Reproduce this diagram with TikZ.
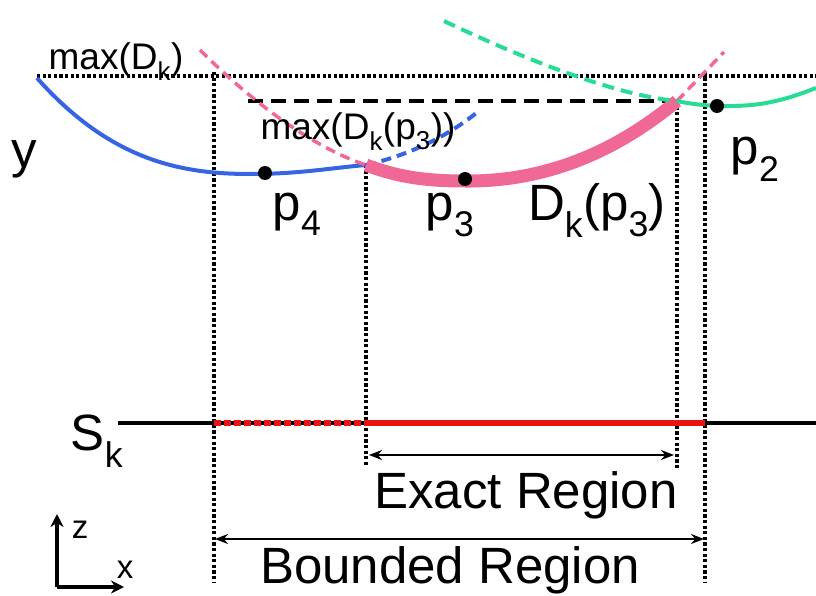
\documentclass[tikz,border=0pt]{standalone}
\usepackage{fontspec}
\setmainfont{Liberation Sans}
\usetikzlibrary{arrows.meta}
\definecolor{cblue}{RGB}{55,100,225}
\definecolor{cpink}{RGB}{240,105,150}
\definecolor{cgreen}{RGB}{40,220,150}
\definecolor{cred}{RGB}{232,20,20}
\tikzset{
  big/.style={font=\fontsize{51}{55}\selectfont, inner sep=0pt, anchor=base},
  small/.style={font=\fontsize{37}{40}\selectfont, inner sep=0pt, anchor=base},
  axlab/.style={font=\fontsize{33}{36}\selectfont, inner sep=0pt, anchor=base},
  guide/.style={black, line width=3.2pt, dash pattern=on 3.2pt off 2.4pt},
  pt/.style={circle, fill=black, inner sep=0pt, minimum size=14pt},
  dimarrow/.style={line width=2.4pt, {Stealth[length=13pt,width=10pt]}-{Stealth[length=13pt,width=10pt]}},
}
\begin{document}
\begin{tikzpicture}[x=1pt,y=-1pt]
\useasboundingbox (0,0) rectangle (816,596);
% key coordinates
\coordinate (mL) at (37,76);
\coordinate (mR) at (816,76);
\coordinate (dL) at (248,101);
\coordinate (cross) at (366,165);
\coordinate (pinkR) at (677,101);
\coordinate (g0) at (444,21);
\coordinate (gR) at (816,88);
% top guide lines
\draw[guide] (mL) -- (mR);
\draw[black, line width=4.5pt, dash pattern=on 15pt off 8pt] (dL) -- (pinkR);
% vertical guides
\draw[guide] (214,72) -- (214,583);
\draw[guide] (cross) -- (366,465);
\draw[guide] (pinkR) -- (677,468);
\draw[guide] (705,72) -- (705,583);
% blue curve
\draw[cblue, line width=4pt] (37,78) .. controls (110,160) and (180,174) .. (250,174)
      .. controls (300,174) and (330,168) .. (cross);
\draw[cblue, line width=4pt, dash pattern=on 10pt off 6pt] (cross) .. controls (410,155) and (450,135) .. (480,110);
% pink curve
\draw[cpink, line width=3.5pt, dash pattern=on 10pt off 6pt] (200,50) .. controls (260,110) and (320,150) .. (cross);
\draw[cpink, line width=13pt] (cross) .. controls (400,178) and (430,181) .. (465,181)
      .. controls (560,182) and (630,140) .. (pinkR);
\draw[cpink, line width=3.5pt, dash pattern=on 10pt off 6pt] (pinkR) -- (724,52);
% green curve
\draw[cgreen, line width=4pt, dash pattern=on 12pt off 7pt] (g0) .. controls (530,62) and (620,96) .. (pinkR);
\draw[cgreen, line width=4pt] (pinkR) .. controls (700,106) and (730,108) .. (760,104)
      .. controls (785,100) and (800,94) .. (gR);
% points
\node[pt] (p4) at (265,173) {};
\node[pt] (p3) at (465,179) {};
\node[pt] (p2) at (717,106) {};
% labels
\node[small] (lmax) at (116,70) {max(D\textsubscript{k})};
\node[small] (lmax3) at (358,140) {max(D\textsubscript{k}(p\textsubscript{3}))};
\node[big] (ly) at (24,168) {y};
\node[big] (lp4) at (297,220) {p\textsubscript{4}};
\node[big] (lp3) at (450,220) {p\textsubscript{3}};
\node[big] (lD) at (597,220) {D\textsubscript{k}(p\textsubscript{3})};
\node[big] (lp2) at (755,165) {p\textsubscript{2}};
% S_k line
\coordinate (sL) at (118,423);
\coordinate (sA) at (214,423);
\coordinate (sB) at (366,423);
\coordinate (sC) at (705,423);
\coordinate (sR) at (816,423);
\draw[black, line width=4.5pt] (sL) -- (sB);
\draw[black, line width=4.5pt] (sC) -- (sR);
\draw[cred, line width=6.5pt, dash pattern=on 7pt off 3pt] (sA) -- (sB);
\draw[cred, line width=6.5pt] (sB) -- (sC);
\node[big] (lS) at (97,450) {S\textsubscript{k}};
% dimension arrows
\coordinate (eL) at (369,455);
\coordinate (eR) at (674,455);
\draw[dimarrow] (eL) -- (eR);
\node[big] (lE) at (526,508) {Exact Region};
\coordinate (bL) at (215,539);
\coordinate (bR) at (704,539);
\draw[dimarrow] (bL) -- (bR);
\node[big] (lB) at (450,583) {Bounded Region};
% axes
\coordinate (o) at (57,587);
\coordinate (zt) at (57,514);
\coordinate (xt) at (124,587);
\draw[line width=4.5pt, -{Stealth[length=13pt,width=13pt]}] (o) -- (zt);
\draw[line width=4.5pt, -{Stealth[length=13pt,width=13pt]}] (o) -- (xt);
\node[axlab] (lz) at (80,538) {z};
\node[axlab] (lx) at (125,578) {x};
\end{tikzpicture}
\end{document}
